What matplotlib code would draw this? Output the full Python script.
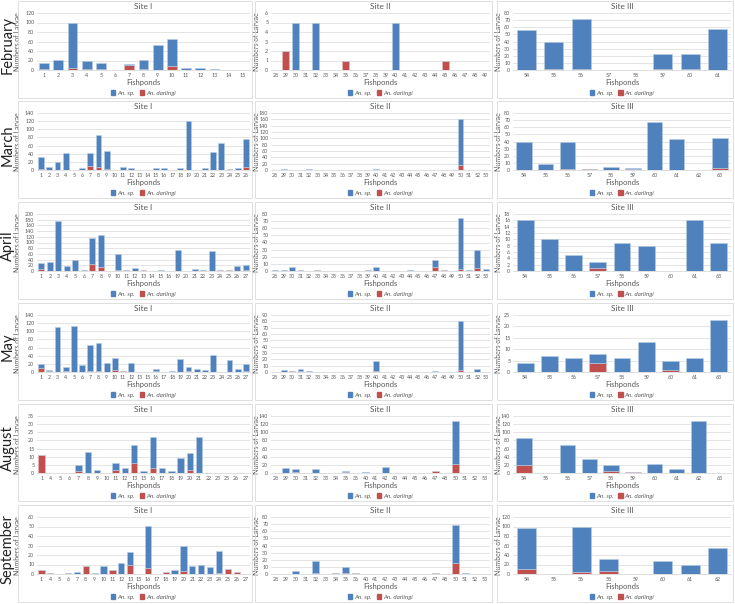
import matplotlib
matplotlib.use('Agg')
import matplotlib.pyplot as plt
from matplotlib.patches import Rectangle, Patch
import numpy as np

plt.rcParams['font.family'] = ['Lato', 'DejaVu Sans']

months = ['February', 'March', 'April', 'May', 'August', 'September']
sites = ['Site I', 'Site II', 'Site III']

# ---- pond numbers shown on each x axis ----
site2_full = list(range(28, 54))
site2_aug = [28, 29, 30, 31, 32, 33, 34, 35, 36, 40, 41, 42, 43, 44, 45, 46, 47, 48, 50, 51, 52, 53]

# February
feb_s1_ponds = list(range(1, 16))
feb_s1_sp = [12, 22, 94, 15, 13, 0, 2, 19, 53, 58, 5, 5, 3, 0, 0]
feb_s1_darl = [2, 0, 4, 3, 2, 0, 11, 3, 0, 8, 0, 0, 0, 0, 0]
feb_s2_ponds = list(range(28, 50))
feb_s2_sp = [0, 0, 5, 0, 5, 0, 0, 0, 0, 0, 0, 0, 5, 0, 0, 0, 0, 0, 0, 0, 0, 0]
feb_s2_darl = [0, 2, 0, 0, 0, 0, 0, 1, 0, 0, 0, 0, 0, 0, 0, 0, 0, 1, 0, 0, 0, 0]
feb_s3_ponds = [54, 55, 56, 57, 58, 59, 60, 61]
feb_s3_sp = [56, 39, 70, 0, 0, 21, 22, 58]
feb_s3_darl = [0, 1, 1, 0, 0, 1, 1, 0]

# March
mar_s1_ponds = list(range(1, 27))
mar_s1_sp = [29, 8, 20, 42, 0, 4, 31, 80, 45, 0, 7, 6, 0, 0, 4, 4, 0, 6, 120, 0, 4, 45, 67, 3, 4, 67]
mar_s1_darl = [2, 0, 0, 0, 0, 0, 10, 7, 2, 0, 1, 0, 1, 0, 0, 0, 0, 0, 1, 1, 0, 0, 0, 0, 1, 8]
mar_s2_ponds = site2_full
mar_s2_sp = [0, 2, 1, 0, 2, 0, 0, 0, 0, 0, 0, 0, 2, 0, 0, 0, 0, 0, 0, 1, 0, 0, 144, 1, 0, 1]
mar_s2_darl = [0, 0, 0, 0, 0, 0, 0, 0, 0, 0, 0, 0, 0, 0, 0, 0, 0, 0, 0, 0, 0, 0, 16, 0, 0, 0]
mar_s3_ponds = [54, 55, 56, 57, 58, 59, 60, 61, 62, 63]
mar_s3_sp = [40, 9, 38, 1, 4, 2, 67, 43, 0, 42]
mar_s3_darl = [0, 0, 1, 1, 0, 1, 0, 0, 0, 3]

# April
apr_s1_ponds = list(range(1, 17)) + list(range(19, 28))
apr_s1_sp = [19, 30, 175, 18, 37, 4, 90, 112, 0, 55, 2, 9, 1, 0, 2, 0, 72, 1, 6, 2, 70, 0, 1, 16, 18]
apr_s1_darl = [8, 0, 0, 0, 0, 0, 25, 15, 0, 5, 0, 0, 3, 0, 0, 0, 0, 0, 0, 0, 0, 3, 2, 0, 2]
apr_s2_ponds = site2_full
apr_s2_sp = [1, 2, 5, 1, 0, 0, 0, 0, 0, 0, 0, 1, 5, 0, 0, 0, 2, 0, 0, 10, 0, 0, 71, 2, 25, 3]
apr_s2_darl = [0, 0, 0, 0, 0, 1, 0, 0, 0, 0, 0, 0, 0, 0, 0, 0, 0, 0, 0, 5, 1, 0, 3, 0, 4, 0]
apr_s3_ponds = [54, 55, 56, 57, 58, 59, 60, 61, 63]
apr_s3_sp = [16, 10, 5, 2, 9, 8, 0, 16, 9]
apr_s3_darl = [0, 0, 0, 1, 0, 0, 0, 0, 0]

# May
may_s1_ponds = list(range(1, 14)) + list(range(15, 28))
may_s1_sp = [10, 3, 110, 10, 114, 16, 63, 70, 22, 29, 0, 23, 0, 1, 6, 0, 2, 33, 10, 8, 5, 42, 0, 29, 8, 17]
may_s1_darl = [10, 3, 0, 2, 0, 0, 3, 2, 0, 6, 2, 0, 0, 0, 2, 0, 0, 0, 3, 0, 0, 0, 0, 1, 0, 3]
may_s2_ponds = site2_full
may_s2_sp = [0, 3, 0, 4, 2, 0, 0, 0, 0, 0, 0, 0, 16, 0, 0, 0, 0, 0, 0, 2, 0, 0, 77, 0, 5, 0]
may_s2_darl = [0, 0, 1, 1, 0, 0, 0, 0, 0, 0, 0, 0, 1, 0, 0, 0, 0, 0, 0, 0, 0, 0, 3, 0, 0, 0]
may_s3_ponds = [54, 55, 56, 57, 58, 59, 60, 61, 63]
may_s3_sp = [4, 7, 6, 4, 6, 13, 4, 6, 23]
may_s3_darl = [0, 0, 0, 4, 0, 0, 1, 0, 0]

# August
aug_s1_ponds = [1, 4, 5, 6, 7, 8, 9, 10, 11, 12, 13, 15, 16, 17, 18, 19, 20, 21, 22, 23, 25, 26, 27]
aug_s1_sp = [0, 0, 0, 0, 4, 13, 2, 0, 4, 3, 11, 1, 19, 3, 1, 9, 10, 22, 0, 0, 0, 0, 0]
aug_s1_darl = [11, 0, 0, 0, 1, 0, 0, 0, 2, 0, 6, 0, 3, 0, 0, 0, 2, 0, 0, 0, 0, 0, 0]
aug_s2_ponds = site2_aug
aug_s2_sp = [0, 12, 6, 0, 9, 0, 0, 3, 0, 3, 0, 15, 0, 0, 0, 0, 0, 0, 106, 0, 0, 0]
aug_s2_darl = [1, 0, 3, 1, 0, 0, 0, 3, 1, 0, 0, 0, 0, 0, 0, 0, 4, 0, 22, 0, 0, 0]
aug_s3_ponds = [54, 55, 56, 57, 58, 59, 60, 61, 62, 63]
aug_s3_sp = [67, 0, 67, 33, 16, 0, 21, 10, 128, 0]
aug_s3_darl = [20, 1, 1, 1, 4, 3, 0, 0, 0, 0]

# September
sep_s1_ponds = [1, 4, 5, 6, 7, 8, 9, 10, 11, 12, 13, 15, 16, 17, 18, 19, 20, 21, 22, 23, 24, 25, 26, 27]
sep_s1_sp = [0, 0, 0, 1, 2, 0, 1, 8, 0, 12, 13, 0, 45, 0, 0, 4, 27, 8, 9, 7, 23, 0, 0, 0]
sep_s1_darl = [4, 1, 0, 0, 0, 8, 0, 0, 4, 0, 10, 0, 6, 0, 2, 0, 3, 0, 0, 0, 1, 5, 2, 0]
sep_s2_ponds = site2_aug
sep_s2_sp = [0, 0, 4, 0, 17, 0, 2, 8, 1, 0, 0, 0, 0, 0, 0, 0, 0, 0, 54, 2, 0, 0]
sep_s2_darl = [0, 0, 0, 0, 1, 0, 0, 2, 1, 0, 0, 0, 0, 0, 0, 0, 2, 0, 15, 0, 0, 0]
sep_s3_ponds = [54, 55, 56, 58, 59, 60, 61, 62]
sep_s3_sp = [86, 0, 95, 25, 1, 26, 18, 55]
sep_s3_darl = [10, 0, 5, 6, 0, 1, 0, 0]

# y axis (max, step) per panel, row by row
y_axes = [
    [(120, 20), (6, 1), (80, 10)],
    [(140, 20), (180, 20), (80, 10)],
    [(200, 20), (80, 10), (18, 2)],
    [(140, 20), (90, 10), (25, 5)],
    [(35, 5), (140, 20), (140, 20)],
    [(60, 10), (80, 10), (120, 20)],
]

panels = [
    [(feb_s1_ponds, feb_s1_sp, feb_s1_darl), (feb_s2_ponds, feb_s2_sp, feb_s2_darl), (feb_s3_ponds, feb_s3_sp, feb_s3_darl)],
    [(mar_s1_ponds, mar_s1_sp, mar_s1_darl), (mar_s2_ponds, mar_s2_sp, mar_s2_darl), (mar_s3_ponds, mar_s3_sp, mar_s3_darl)],
    [(apr_s1_ponds, apr_s1_sp, apr_s1_darl), (apr_s2_ponds, apr_s2_sp, apr_s2_darl), (apr_s3_ponds, apr_s3_sp, apr_s3_darl)],
    [(may_s1_ponds, may_s1_sp, may_s1_darl), (may_s2_ponds, may_s2_sp, may_s2_darl), (may_s3_ponds, may_s3_sp, may_s3_darl)],
    [(aug_s1_ponds, aug_s1_sp, aug_s1_darl), (aug_s2_ponds, aug_s2_sp, aug_s2_darl), (aug_s3_ponds, aug_s3_sp, aug_s3_darl)],
    [(sep_s1_ponds, sep_s1_sp, sep_s1_darl), (sep_s2_ponds, sep_s2_sp, sep_s2_darl), (sep_s3_ponds, sep_s3_sp, sep_s3_darl)],
]

BLUE = '#4F81BD'
RED = '#C0504D'
GRID = '#d9d9d9'
TXT = '#595959'

W, H = 735, 604
fig = plt.figure(figsize=(W / 100, H / 100), dpi=100)

# layout in pixels
ax_tops = [13, 113, 214, 315, 416, 517]
ax_h = 57
ax_cols = [(37, 250), (271, 490), (513, 731)]
box_cols = [(18, 252), (255, 492), (497, 733)]
ylab_x = [-0.075, -0.05, -0.05]

for r, month in enumerate(months):
    top = ax_tops[r]
    for c in range(3):
        ponds, sp, darl = panels[r][c]
        ymax, ystep = y_axes[r][c]

        # panel frame
        bx0, bx1 = box_cols[c]
        by0, by1 = top - 12, top + ax_h + 28
        fig.patches.append(Rectangle((bx0 / W, 1 - by1 / H), (bx1 - bx0) / W, (by1 - by0) / H,
                                     transform=fig.transFigure, fill=False,
                                     edgecolor=GRID, linewidth=0.6))

        x0, x1 = ax_cols[c]
        ax = fig.add_axes([x0 / W, 1 - (top + ax_h) / H, (x1 - x0) / W, ax_h / H])
        x = np.arange(len(ponds))
        ax.bar(x, darl, width=0.7, color=RED, edgecolor='#e6b9b8', linewidth=0.4, zorder=3)
        ax.bar(x, sp, width=0.7, bottom=darl, color=BLUE, edgecolor='#b9cde5', linewidth=0.4, zorder=3)

        ax.set_xlim(-0.5, len(ponds) - 0.5)
        ax.set_ylim(0, ymax)
        ax.set_yticks(np.arange(0, ymax + 0.01, ystep))
        ax.set_xticks(x)
        ax.set_xticklabels([str(p) for p in ponds])
        ax.tick_params(axis='both', length=0, labelsize=3.8, colors=TXT, pad=2)
        ax.grid(axis='y', color=GRID, linewidth=0.5, zorder=0)
        for s in ['top', 'right', 'left']:
            ax.spines[s].set_visible(False)
        ax.spines['bottom'].set_color(GRID)
        ax.spines['bottom'].set_linewidth(0.6)

        ax.set_title(sites[c], fontsize=6, color=TXT, pad=3)
        ax.set_xlabel('Fishponds', fontsize=5.5, color=TXT, labelpad=1)
        ax.set_ylabel('Numbers of Larvae', fontsize=5, color=TXT)
        ax.yaxis.set_label_coords(ylab_x[c], 0.5)

        handles = [Patch(color=BLUE, label='An. sp.'), Patch(color=RED, label='An. darlingi')]
        ax.legend(handles=handles, loc='upper center', bbox_to_anchor=(0.5, -0.29), ncol=2,
                  frameon=False, handlelength=0.7, handleheight=0.7, handletextpad=0.3,
                  columnspacing=0.8, borderpad=0.1, prop={'style': 'italic', 'size': 4.5},
                  labelcolor=TXT)

    fig.text(8 / W, 1 - (top + 32) / H, month, rotation=90, fontsize=10.5,
             ha='center', va='center', color='#222222')

fig.savefig('out.png', dpi=100)
